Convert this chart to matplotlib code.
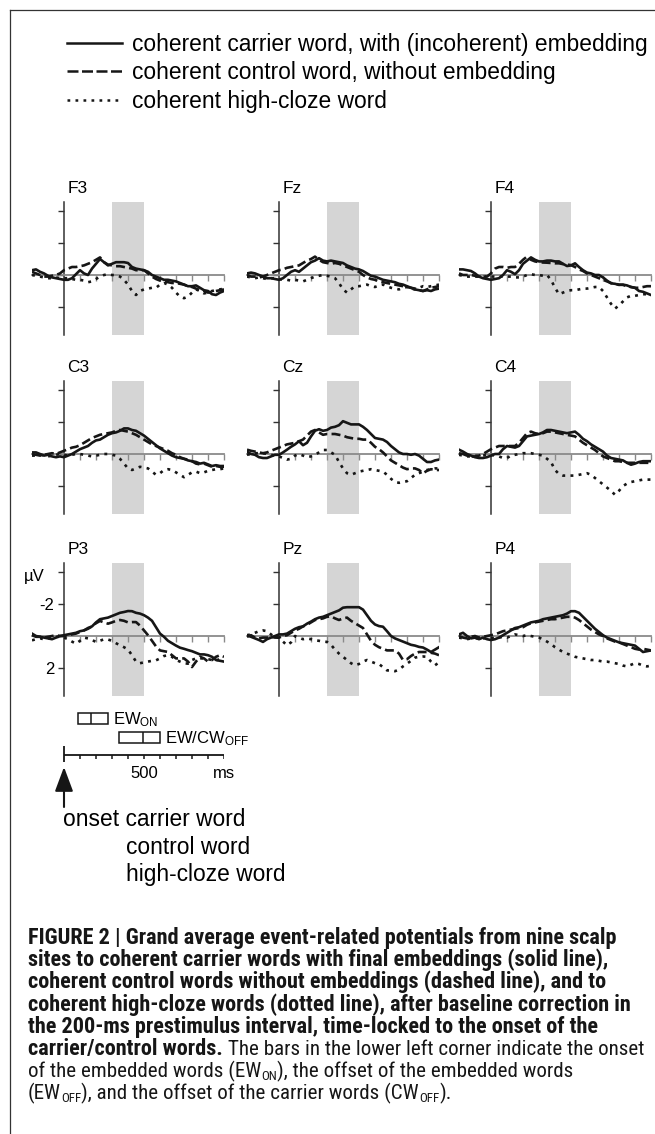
import matplotlib

matplotlib.use("Agg")

import matplotlib.pyplot as plt
import numpy as np
from matplotlib import font_manager
from matplotlib.lines import Line2D
from matplotlib.patches import Rectangle

# every waveform is sampled each 25 ms from -200 to 1000 ms, values in microvolt
TIMES = np.arange(-200, 1001, 25)

F3_CARRIER = [-0.3, -0.35, -0.2, -0.1, 0.05, 0.15, 0.2, 0.25, 0.3, 0.3, 0.2, -0.05, -0.3, -0.1, 0.0,
              -0.4, -0.7, -1.0, -0.8, -0.6, -0.7, -0.8, -0.8, -0.8, -0.75, -0.5, -0.4, -0.35, -0.3, -0.2,
              0.0, 0.1, 0.2, 0.3, 0.3, 0.35, 0.4, 0.5, 0.6, 0.7, 0.7, 0.65, 0.8, 0.95, 1.0, 1.2, 1.25, 1.1, 1.0]
F3_CONTROL = [-0.2, -0.1, 0.0, 0.1, 0.1, 0.05, 0.0, -0.1, -0.3, -0.4, -0.5, -0.5, -0.55, -0.6, -0.7,
              -0.8, -0.95, -1.1, -0.8, -0.65, -0.6, -0.55, -0.55, -0.5, -0.45, -0.4, -0.3, -0.3, -0.3, -0.1,
              0.1, 0.25, 0.35, 0.4, 0.45, 0.5, 0.5, 0.55, 0.6, 0.7, 0.75, 0.85, 0.95, 1.0, 1.1, 1.05, 1.0, 0.95, 0.9]
F3_CLOZE = [0.0, 0.05, 0.1, 0.15, 0.2, 0.2, 0.15, 0.2, 0.2, 0.2, 0.25, 0.3, 0.3, 0.35, 0.45,
            0.4, 0.25, 0.1, 0.0, -0.05, 0.0, 0.0, 0.1, 0.3, 0.6, 1.0, 1.25, 1.0, 0.9, 0.85,
            0.8, 0.8, 0.6, 0.5, 0.6, 0.8, 1.1, 1.35, 1.45, 1.35, 1.1, 0.9, 1.0, 1.15, 1.1, 1.0, 0.95, 0.9, 0.85]

FZ_CARRIER = [-0.1, -0.15, -0.1, 0.0, 0.1, 0.2, 0.2, 0.25, 0.3, 0.2, 0.0, -0.2, -0.3, -0.2, -0.4,
              -0.6, -0.8, -0.9, -1.05, -0.9, -0.85, -0.9, -0.85, -0.8, -0.75, -0.6, -0.5, -0.4, -0.35, -0.25,
              -0.1, 0.05, 0.1, 0.2, 0.3, 0.35, 0.4, 0.45, 0.55, 0.6, 0.7, 0.8, 0.9, 0.95, 1.0, 0.95, 1.0, 0.9, 0.85]
FZ_CONTROL = [0.0, 0.1, 0.1, 0.15, 0.1, 0.0, -0.1, -0.2, -0.3, -0.35, -0.45, -0.5, -0.55, -0.6, -0.75,
              -0.9, -1.0, -1.15, -0.95, -0.8, -0.75, -0.7, -0.75, -0.7, -0.6, -0.5, -0.4, -0.3, -0.2, 0.0,
              0.15, 0.25, 0.3, 0.4, 0.45, 0.5, 0.55, 0.6, 0.65, 0.7, 0.75, 0.8, 0.85, 0.95, 1.0, 0.9, 0.8, 0.75, 0.7]
FZ_CLOZE = [0.1, 0.15, 0.2, 0.15, 0.2, 0.25, 0.2, 0.2, 0.25, 0.3, 0.3, 0.35, 0.3, 0.35, 0.4,
            0.3, 0.2, 0.1, 0.05, 0.0, 0.05, 0.1, 0.2, 0.5, 0.9, 1.1, 0.9, 0.7, 0.7, 0.65,
            0.6, 0.7, 0.75, 0.65, 0.6, 0.7, 0.8, 0.85, 0.9, 0.8, 0.75, 0.85, 0.9, 0.8, 0.7, 0.75, 0.7, 0.65, 0.6]

F4_CARRIER = [-0.35, -0.35, -0.3, -0.25, -0.1, 0.1, 0.2, 0.25, 0.3, 0.25, 0.2, 0.0, -0.3, -0.2, -0.05,
              -0.3, -0.7, -0.9, -1.1, -0.95, -0.85, -0.85, -0.9, -0.9, -0.85, -0.85, -0.7, -0.56, -0.6, -0.73,
              -0.5, -0.3, -0.15, -0.1, 0.0, 0.0, 0.15, 0.35, 0.52, 0.55, 0.62, 0.6, 0.65, 0.75, 0.8, 1.0, 1.05, 1.15, 1.25]
F4_CONTROL = [-0.1, 0.0, 0.0, 0.0, 0.05, 0.1, 0.1, 0.1, -0.1, -0.4, -0.5, -0.5, -0.45, -0.5, -0.5,
              -0.7, -0.95, -1.15, -0.95, -0.85, -0.8, -0.78, -0.77, -0.75, -0.73, -0.73, -0.68, -0.65, -0.62, -0.5,
              -0.35, -0.25, -0.1, 0.0, 0.1, 0.2, 0.3, 0.4, 0.5, 0.55, 0.6, 0.62, 0.7, 0.75, 0.8, 0.8, 0.75, 0.7, 0.7]
F4_CLOZE = [0.0, 0.05, 0.1, 0.1, 0.1, 0.1, 0.1, 0.1, 0.1, 0.1, 0.1, 0.1, 0.1, 0.1, 0.15,
            0.15, 0.1, 0.0, -0.05, 0.0, 0.0, 0.05, 0.0, 0.3, 0.8, 1.2, 1.1, 1.0, 0.95, 0.95,
            0.9, 0.85, 0.85, 0.8, 0.75, 0.75, 1.0, 1.4, 1.8, 2.1, 1.9, 1.65, 1.4, 1.3, 1.3, 1.25, 1.2, 1.2, 1.15]

C3_CARRIER = [-0.1, -0.1, 0.0, 0.1, 0.05, 0.15, 0.2, 0.15, 0.2, 0.1, 0.0, -0.15, -0.3, -0.4, -0.5,
              -0.7, -0.85, -0.9, -1.05, -1.2, -1.3, -1.35, -1.45, -1.6, -1.6, -1.5, -1.45, -1.3, -1.15, -0.95,
              -0.75, -0.55, -0.35, -0.2, -0.05, 0.1, 0.2, 0.25, 0.3, 0.4, 0.45, 0.5, 0.6, 0.55, 0.65, 0.75, 0.7, 0.75, 0.75]
C3_CONTROL = [0.0, 0.05, 0.1, 0.05, 0.0, -0.05, 0.0, -0.1, -0.2, -0.3, -0.4, -0.45, -0.55, -0.7, -0.85,
              -1.0, -1.1, -1.2, -1.25, -1.3, -1.35, -1.45, -1.5, -1.45, -1.4, -1.3, -1.2, -1.05, -0.9, -0.75,
              -0.6, -0.5, -0.4, -0.3, -0.2, -0.05, 0.05, 0.2, 0.3, 0.35, 0.45, 0.6, 0.65, 0.6, 0.7, 0.8, 0.75, 0.8, 0.8]
C3_CLOZE = [0.1, 0.1, 0.05, 0.1, 0.15, 0.1, 0.05, 0.0, 0.05, 0.1, 0.05, 0.0, 0.0, 0.05, 0.1,
            0.15, 0.1, 0.05, 0.0, 0.0, 0.05, 0.1, 0.3, 0.6, 0.9, 1.0, 0.9, 0.8, 0.85, 0.9,
            1.1, 1.3, 1.2, 1.0, 0.95, 1.0, 1.15, 1.3, 1.45, 1.3, 1.15, 1.1, 1.2, 1.15, 1.05, 1.0, 0.95, 0.95, 0.9]

CZ_CARRIER = [-0.15, 0.0, 0.05, 0.2, 0.25, 0.25, 0.15, 0.05, 0.05, -0.1, -0.27, -0.45, -0.6, -0.8, -0.55,
              -0.7, -1.1, -1.45, -1.55, -1.45, -1.5, -1.65, -1.7, -1.8, -2.05, -1.95, -1.85, -1.85, -1.85, -1.7,
              -1.5, -1.25, -1.0, -0.95, -0.9, -0.75, -0.5, -0.3, -0.1, 0.0, 0.0, 0.05, 0.0, 0.1, 0.3, 0.5, 0.5, 0.4, 0.35]
CZ_CONTROL = [-0.27, -0.2, -0.15, -0.1, -0.05, -0.1, -0.2, -0.3, -0.4, -0.5, -0.6, -0.65, -0.7, -0.8, -0.9,
              -1.15, -1.4, -1.5, -1.35, -1.2, -1.25, -1.25, -1.25, -1.2, -1.15, -1.05, -1.0, -0.95, -0.95, -0.9,
              -0.9, -0.7, -0.45, -0.3, -0.1, 0.15, 0.4, 0.55, 0.7, 0.85, 0.95, 0.9, 0.9, 1.0, 1.2, 1.05, 0.95, 1.0, 1.0]
CZ_CLOZE = [0.05, 0.0, -0.05, -0.05, -0.05, 0.0, 0.05, 0.1, 0.15, 0.25, 0.35, 0.3, 0.1, 0.0, 0.1,
            0.2, 0.15, 0.05, -0.1, -0.25, -0.25, -0.1, 0.05, 0.5, 0.9, 1.2, 1.3, 1.2, 1.1, 1.05,
            1.0, 0.95, 1.0, 1.05, 1.1, 1.3, 1.55, 1.75, 1.8, 1.75, 1.7, 1.5, 1.3, 1.2, 1.1, 1.0, 0.95, 0.9, 0.9]

C4_CARRIER = [-0.27, -0.15, 0.0, 0.1, 0.2, 0.25, 0.25, 0.2, 0.1, 0.0, 0.0, -0.3, -0.5, -0.45, -0.4,
              -0.5, -0.8, -1.1, -1.15, -1.2, -1.25, -1.35, -1.5, -1.5, -1.45, -1.4, -1.35, -1.3, -1.35, -1.4,
              -1.2, -0.95, -0.8, -0.6, -0.45, -0.3, -0.15, 0.1, 0.25, 0.3, 0.35, 0.4, 0.55, 0.67, 0.6, 0.5, 0.45, 0.45, 0.45]
C4_CONTROL = [-0.05, 0.0, 0.1, 0.15, 0.15, 0.1, 0.0, -0.15, -0.3, -0.4, -0.5, -0.5, -0.5, -0.5, -0.5,
              -0.7, -1.0, -1.3, -1.4, -1.3, -1.25, -1.3, -1.4, -1.4, -1.35, -1.3, -1.25, -1.2, -1.15, -1.1,
              -0.9, -0.7, -0.55, -0.4, -0.25, -0.05, 0.15, 0.25, 0.35, 0.45, 0.45, 0.5, 0.55, 0.55, 0.55, 0.55, 0.55, 0.55, 0.55]
C4_CLOZE = [0.05, 0.1, 0.15, 0.15, 0.1, 0.15, 0.1, 0.05, 0.05, 0.1, 0.15, 0.25, 0.25, 0.1, 0.05,
            0.0, -0.05, -0.05, -0.05, 0.0, 0.05, 0.1, 0.3, 0.5, 1.0, 1.25, 1.35, 1.35, 1.35, 1.35,
            1.3, 1.25, 1.2, 1.3, 1.5, 1.7, 1.9, 2.1, 2.3, 2.55, 2.3, 2.0, 1.85, 1.75, 1.7, 1.65, 1.6, 1.6, 1.6]

P3_CARRIER = [-0.15, 0.0, 0.05, 0.1, 0.15, 0.2, 0.1, 0.0, -0.05, -0.1, -0.15, -0.2, -0.3, -0.35, -0.5,
              -0.6, -0.85, -1.05, -1.1, -1.15, -1.25, -1.35, -1.45, -1.5, -1.56, -1.55, -1.45, -1.4, -1.3, -1.15,
              -0.95, -0.55, -0.15, 0.05, 0.3, 0.45, 0.6, 0.73, 0.8, 0.88, 0.95, 1.05, 1.15, 1.15, 1.2, 1.3, 1.5, 1.55, 1.6]
P3_CONTROL = [-0.05, 0.05, 0.05, 0.1, 0.05, 0.0, -0.05, 0.0, 0.0, -0.05, -0.1, -0.15, -0.25, -0.35, -0.45,
              -0.6, -0.8, -0.94, -0.85, -0.77, -0.85, -0.95, -1.0, -0.95, -0.85, -0.87, -0.87, -0.65, -0.35, -0.05,
              0.3, 0.65, 0.9, 0.95, 1.0, 1.2, 1.4, 1.4, 1.4, 1.6, 1.94, 1.6, 1.3, 1.4, 1.6, 1.5, 1.3, 1.2, 1.3]
P3_CLOZE = [0.27, 0.2, 0.15, 0.2, 0.15, 0.1, 0.05, 0.05, 0.1, 0.2, 0.35, 0.48, 0.3, 0.1, 0.15,
            0.25, 0.37, 0.3, 0.2, 0.22, 0.3, 0.45, 0.58, 0.7, 0.85, 1.2, 1.6, 1.7, 1.65, 1.6,
            1.55, 1.52, 1.4, 1.25, 1.2, 1.3, 1.5, 1.6, 1.7, 1.73, 1.5, 1.4, 1.4, 1.4, 1.45, 1.5, 1.52, 1.45, 1.4]

PZ_CARRIER = [-0.05, 0.05, 0.15, 0.25, 0.37, 0.2, 0.1, 0.0, -0.1, -0.1, -0.15, -0.3, -0.45, -0.55, -0.6,
              -0.77, -0.9, -1.05, -1.15, -1.2, -1.3, -1.4, -1.5, -1.6, -1.77, -1.8, -1.8, -1.8, -1.8, -1.65,
              -1.3, -0.95, -0.72, -0.62, -0.58, -0.3, 0.0, 0.15, 0.25, 0.35, 0.45, 0.55, 0.6, 0.68, 0.72, 0.85, 1.0, 0.85, 0.7]
PZ_CONTROL = [0.05, -0.05, 0.1, 0.15, 0.1, 0.1, 0.05, 0.1, 0.1, 0.0, -0.05, -0.2, -0.35, -0.45, -0.6,
              -0.7, -0.85, -1.0, -1.05, -1.1, -1.2, -1.23, -1.1, -1.0, -1.1, -1.15, -0.95, -0.8, -0.65, -0.5,
              -0.1, 0.3, 0.55, 0.7, 0.8, 0.9, 0.9, 0.9, 1.1, 1.5, 1.45, 1.25, 1.1, 1.0, 1.0, 1.0, 1.05, 1.1, 1.2]
PZ_CLOZE = [-0.05, -0.1, -0.2, -0.3, -0.35, -0.3, -0.1, 0.1, 0.1, 0.35, 0.58, 0.4, 0.0, 0.1, 0.2,
            0.15, 0.2, 0.27, 0.3, 0.35, 0.37, 0.55, 0.85, 1.1, 1.3, 1.5, 1.7, 1.83, 1.75, 1.6,
            1.5, 1.6, 1.7, 1.75, 1.95, 2.15, 2.15, 2.2, 2.1, 1.9, 1.73, 1.55, 1.35, 1.3, 1.28, 1.3, 1.6, 1.83, 1.65]

P4_CARRIER = [-0.1, -0.2, 0.0, 0.15, 0.1, 0.2, 0.1, 0.2, 0.25, 0.2, 0.1, -0.05, -0.2, -0.35, -0.5,
              -0.55, -0.65, -0.75, -0.85, -0.9, -0.95, -1.05, -1.1, -1.15, -1.2, -1.25, -1.3, -1.4, -1.55, -1.55,
              -1.45, -1.2, -0.95, -0.7, -0.45, -0.25, -0.05, 0.1, 0.2, 0.3, 0.4, 0.45, 0.5, 0.55, 0.6, 0.8, 1.0, 0.95, 0.9]
P4_CONTROL = [0.0, 0.1, 0.15, 0.05, 0.0, 0.1, 0.05, 0.0, -0.05, -0.1, -0.2, -0.3, -0.35, -0.4, -0.45,
              -0.5, -0.55, -0.7, -0.8, -0.85, -0.9, -0.95, -1.0, -1.05, -1.05, -1.1, -1.15, -1.2, -1.2, -1.15,
              -1.0, -0.8, -0.6, -0.4, -0.25, -0.1, 0.0, 0.15, 0.25, 0.35, 0.4, 0.5, 0.6, 0.7, 0.8, 0.85, 0.8, 0.85, 0.9]
P4_CLOZE = [0.1, 0.15, 0.2, 0.15, 0.1, 0.2, 0.15, 0.1, 0.1, 0.15, 0.1, 0.05, 0.1, 0.0, -0.1,
            -0.05, 0.0, -0.05, 0.0, 0.05, 0.1, 0.2, 0.35, 0.5, 0.7, 0.85, 1.0, 1.1, 1.2, 1.3,
            1.35, 1.4, 1.45, 1.5, 1.5, 1.55, 1.6, 1.6, 1.65, 1.7, 1.75, 1.85, 1.9, 1.8, 1.7, 1.75, 1.85, 1.9, 1.85]

SITES = ["F3", "Fz", "F4", "C3", "Cz", "C4", "P3", "Pz", "P4"]
WAVES = {
    "F3": (F3_CARRIER, F3_CONTROL, F3_CLOZE),
    "Fz": (FZ_CARRIER, FZ_CONTROL, FZ_CLOZE),
    "F4": (F4_CARRIER, F4_CONTROL, F4_CLOZE),
    "C3": (C3_CARRIER, C3_CONTROL, C3_CLOZE),
    "Cz": (CZ_CARRIER, CZ_CONTROL, CZ_CLOZE),
    "C4": (C4_CARRIER, C4_CONTROL, C4_CLOZE),
    "P3": (P3_CARRIER, P3_CONTROL, P3_CLOZE),
    "Pz": (PZ_CARRIER, PZ_CONTROL, PZ_CLOZE),
    "P4": (P4_CARRIER, P4_CONTROL, P4_CLOZE),
}
LEGEND_LABELS = [
    "coherent carrier word, with (incoherent) embedding",
    "coherent control word, without embedding",
    "coherent high-cloze word",
]
SHADE_MS = (300, 500)
X_TICKS = list(range(100, 1001, 100))
Y_TICKS = [-4, -2, 0, 2]
Y_TICK_LABELS = ["", "-2", "", "2"]
SCALE_TICKS = list(range(0, 1001, 100))
EW_ON_MS = (90, 170, 275)        # start, middle line, end of the box
EW_CW_OFF_MS = (345, 495, 600)
ONSET_LINES = ["onset carrier word", "control word", "high-cloze word"]
CAPTION = [
    [("FIGURE 2 | Grand average event-related potentials from nine scalp", "bold")],
    [("sites to coherent carrier words with final embeddings (solid line),", "bold")],
    [("coherent control words without embeddings (dashed line), and to", "bold")],
    [("coherent high-cloze words (dotted line), after baseline correction in", "bold")],
    [("the 200-ms prestimulus interval, time-locked to the onset of the", "bold")],
    [("carrier/control words.", "bold"), (" The bars in the lower left corner indicate the onset", "normal")],
    [("of the embedded words (EW", "normal"), ("ON", "sub"), ("), the offset of the embedded words", "normal")],
    [("(EW", "normal"), ("OFF", "sub"), ("), and the offset of the carrier words (CW", "normal"),
     ("OFF", "sub"), (").", "normal")],
]


def pick_font(*names):
    have = {f.name for f in font_manager.fontManager.ttflist}
    for n in names:
        if n in have:
            return n
    return "DejaVu Sans"


SANS = pick_font("Liberation Sans", "Arial")
NARROW = pick_font("Liberation Sans Narrow", "Roboto Condensed", "Liberation Sans")
plt.rcParams["font.family"] = SANS
INK = "#161616"

W, H = 655, 1134
fig = plt.figure(figsize=(W / 100, H / 100), dpi=100)


def px_axes(left, top, width, height):
    return fig.add_axes([left / W, 1 - (top + height) / H, width / W, height / H])


# frame lines of the figure box
fig.add_artist(Line2D([10 / W, 1], [1 - 10 / H, 1 - 10 / H], transform=fig.transFigure, color="#333", lw=0.9))
fig.add_artist(Line2D([10 / W, 10 / W], [0, 1 - 10 / H], transform=fig.transFigure, color="#333", lw=0.9))

# panel grid: pixel position of the y axis of each column / zero line of each row
PX_MS, PX_UV = 0.16, 16.0
COL_X = [64, 279, 491]
ROW_Y = [275, 454, 636]
Y_TOP, Y_BOT = -4.55, 3.75
LW = 1.9

for i, site in enumerate(SITES):
    r, c = divmod(i, 3)
    ax = px_axes(COL_X[c] - 200 * PX_MS, ROW_Y[r] + Y_TOP * PX_UV, 1200 * PX_MS, (Y_BOT - Y_TOP) * PX_UV)
    carrier, control, cloze = WAVES[site]
    ax.axvspan(*SHADE_MS, color="#d5d5d5", lw=0, zorder=0)
    ax.plot(TIMES, carrier, color=INK, lw=LW, zorder=3)
    ax.plot(TIMES, control, color=INK, lw=LW, dashes=(3.4, 1.6), zorder=3)
    ax.plot(TIMES, cloze, color=INK, lw=LW, dashes=(1.1, 2.0), zorder=3)
    ax.set_xlim(-200, 1000)
    ax.set_ylim(Y_BOT, Y_TOP)
    ax.patch.set_visible(False)
    for s in ("top", "right"):
        ax.spines[s].set_visible(False)
    ax.spines["left"].set_position(("data", 0))
    ax.spines["bottom"].set_position(("data", 0))
    ax.spines["left"].set_color("#333")
    ax.spines["left"].set_linewidth(1.1)
    ax.spines["bottom"].set_color("#8a8a8a")
    ax.spines["bottom"].set_linewidth(1.3)
    ax.set_xticks(X_TICKS)
    ax.set_xticklabels([])
    ax.tick_params(axis="x", direction="out", length=4, width=1.0, color="#8a8a8a")
    ax.set_yticks(Y_TICKS)
    ax.tick_params(axis="y", direction="out", length=4, width=1.0, color="#333", pad=3, labelsize=12)
    if site == "P3":
        ax.set_yticklabels(Y_TICK_LABELS)
        ax.text(-187, -3.7, "µV", fontsize=12, ha="center", va="center")
    else:
        ax.set_yticklabels([])
    ax.text(20, Y_TOP - 14 / PX_UV, site, fontsize=12.5, ha="left", va="center")

# legend at the top
handles = [
    Line2D([], [], color=INK, lw=1.8),
    Line2D([], [], color=INK, lw=1.8, dashes=(4.4, 1.4)),
    Line2D([], [], color=INK, lw=1.8, dashes=(1.1, 2.1)),
]
fig.legend(handles, LEGEND_LABELS, loc="upper left", bbox_to_anchor=(67 / W, 1 - 32.5 / H), frameon=False,
           prop={"family": SANS, "size": 16.4}, handlelength=2.4, handletextpad=0.44, labelspacing=0.25,
           borderpad=0, borderaxespad=0)

# time scale, bars and onset arrow below the panels (time in ms, y in pixels)
axs = px_axes(COL_X[0] - 200 * PX_MS, 700, 1200 * PX_MS, 190)
axs.set_xlim(-200, 1000)
axs.set_ylim(890, 700)
axs.axis("off")
axs.hlines(755, SCALE_TICKS[0], SCALE_TICKS[-1], color=INK, lw=1.3)
axs.vlines(SCALE_TICKS[1:], 755, 759, color=INK, lw=1.1)
axs.vlines(SCALE_TICKS[0], 746, 762, color=INK, lw=1.3)
axs.text(500, 773, "500", fontsize=12, ha="center", va="center")
axs.text(SCALE_TICKS[-1], 773, "ms", fontsize=12, ha="center", va="center")
for (a, m, b), y0, label in [(EW_ON_MS, 713, r"$\mathregular{EW_{ON}}$"),
                              (EW_CW_OFF_MS, 732, r"$\mathregular{EW/CW_{OFF}}$")]:
    axs.add_patch(Rectangle((a, y0), b - a, 11, fill=False, ec=INK, lw=1.1))
    axs.vlines(m, y0, y0 + 11, color=INK, lw=1.1)
    axs.annotate(label, xy=(b, y0 + 11), xytext=(5, 0), textcoords="offset pixels",
                 fontsize=12, ha="left", va="baseline")
axs.annotate("", xy=(0, 767), xytext=(0, 807),
             arrowprops=dict(arrowstyle="-|>,head_length=0.75,head_width=0.28", mutation_scale=20,
                             lw=1.5, color=INK, shrinkA=0, shrinkB=0))
axs.text(-6, 820, ONSET_LINES[0], fontsize=16.4, ha="left", va="center")
axs.text(387, 847, ONSET_LINES[1], fontsize=16.4, ha="left", va="center")
axs.text(387, 874, ONSET_LINES[2], fontsize=16.4, ha="left", va="center")

# caption, drawn run by run so bold / regular / subscript parts line up
renderer = fig.canvas.get_renderer()


def run_width(s, size, weight):
    t = fig.text(0, 0, s, fontsize=size, fontweight=weight, family=NARROW)
    w = t.get_window_extent(renderer).width
    t.remove()
    return w


bold_size = 10 * 589 / run_width(CAPTION[0][0][0], 10, "bold")
space_w = run_width("n n", bold_size, "normal") - run_width("nn", bold_size, "normal")
# regular text size chosen so that the mixed line ends where the reference line ends
lead_w = run_width(CAPTION[5][0][0], bold_size, "bold") + space_w
reg_size = bold_size * (615 - lead_w) / run_width(CAPTION[5][1][0].strip(), bold_size, "normal")
space_w = run_width("n n", reg_size, "normal") - run_width("nn", reg_size, "normal")

for k, line in enumerate(CAPTION):
    x = 28.0
    base = 944 + 22.2 * k
    for text, kind in line:
        size, weight, dy = (bold_size, "bold", 0.0) if kind == "bold" else (reg_size, "normal", 0.0)
        if kind == "sub":
            size, dy = reg_size * 0.62, 2.5
        if text.startswith(" "):
            x += space_w
            text = text.lstrip()
        t = fig.text(x / W, 1 - (base + dy) / H, text, fontsize=size, fontweight=weight, family=NARROW,
                     ha="left", va="baseline", color=INK)
        x += t.get_window_extent(renderer).width

fig.savefig("out.png", dpi=100)
plt.close(fig)
